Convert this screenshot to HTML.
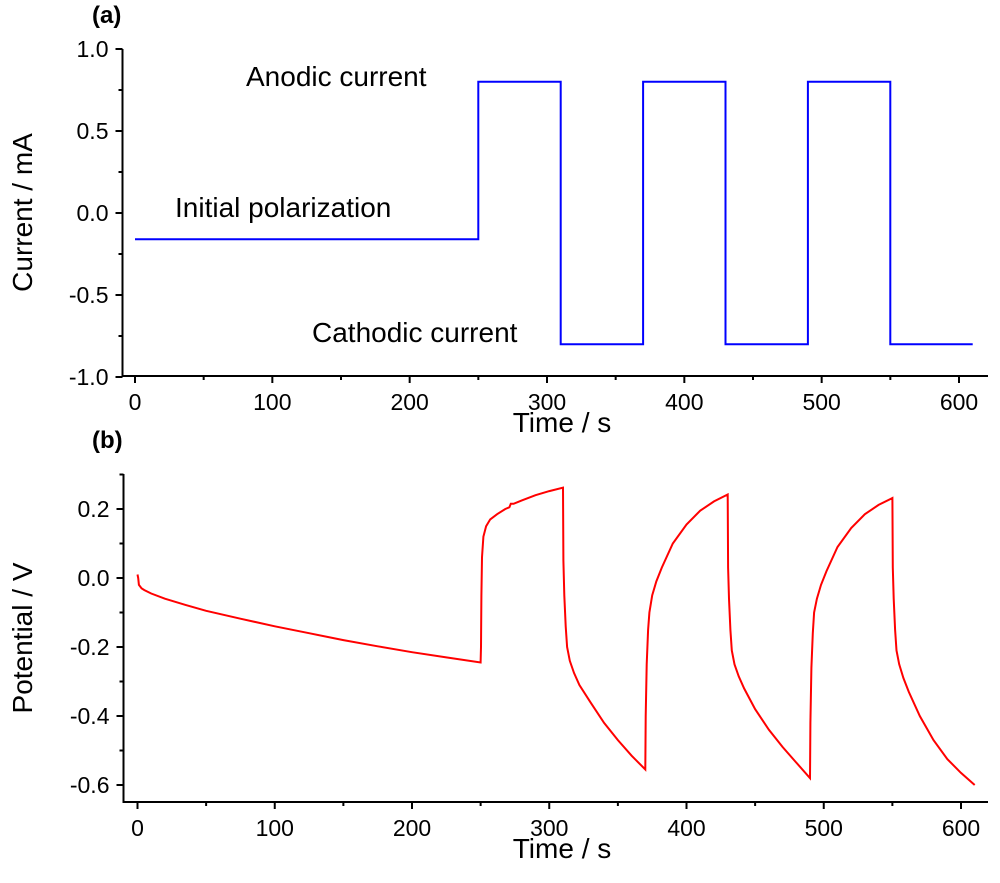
<!DOCTYPE html>
<html><head><meta charset="utf-8"><style>
body{margin:0;background:#fff}
svg text{font-family:"Liberation Sans",Arial,sans-serif;fill:#000}
</style></head><body>
<svg id="chart" width="1000" height="878" xmlns="http://www.w3.org/2000/svg"></svg>
<script>
const curT=[0,250,250,310,310,370,370,430,430,490,490,550,550,610];
const curI=[-0.16,-0.16,0.8,0.8,-0.8,-0.8,0.8,0.8,-0.8,-0.8,0.8,0.8,-0.8,-0.8];
const potT=[0,0.5,1,3,5,10,20,35,50,75,100,125,150,175,200,225,250,250.3,250.6,251,252,254,257,262,268,271,272,274,280,290,300,310,310.3,311,312,313,315,318,322,330,340,350,360,370,370.3,371,372,373,375,378,382,390,400,410,420,430,430.3,431,432,433,435,438,442,450,460,470,480,490,490.3,491,492,493,495,498,502,510,520,530,540,550,550.3,551,552,553,555,558,562,570,580,590,600,610];
const potV=[0.01,0.0,-0.02,-0.03,-0.035,-0.045,-0.06,-0.078,-0.095,-0.118,-0.14,-0.16,-0.18,-0.198,-0.215,-0.23,-0.245,-0.2,-0.05,0.06,0.12,0.15,0.17,0.185,0.2,0.205,0.215,0.215,0.225,0.24,0.252,0.262,0.05,-0.05,-0.14,-0.2,-0.24,-0.275,-0.31,-0.36,-0.42,-0.47,-0.515,-0.555,-0.4,-0.25,-0.15,-0.1,-0.05,-0.01,0.03,0.1,0.155,0.195,0.222,0.242,0.03,-0.06,-0.15,-0.21,-0.25,-0.285,-0.32,-0.38,-0.44,-0.49,-0.535,-0.58,-0.42,-0.26,-0.16,-0.1,-0.06,-0.02,0.02,0.09,0.145,0.185,0.212,0.232,0.03,-0.06,-0.15,-0.21,-0.25,-0.29,-0.33,-0.4,-0.47,-0.525,-0.565,-0.6];
const xTicks=[0,100,200,300,400,500,600];
const aTicks=[-1.0,-0.5,0.0,0.5,1.0];
const bTicks=[-0.6,-0.4,-0.2,0.0,0.2];
const NS="http://www.w3.org/2000/svg";
const svg=document.getElementById('chart');
function mk(tag,at,txt){const e=document.createElementNS(NS,tag);for(const k in at)e.setAttribute(k,at[k]);if(txt!==undefined)e.textContent=txt;svg.appendChild(e);return e;}
function panel(p){
 const xs=t=>p.x0+t*(p.x600-p.x0)/600;
 const ys=v=>p.yA+(v-p.vA)*(p.yB-p.yA)/(p.vB-p.vA);
 const ax=mk('path',{d:`M${p.left},${p.top}V${p.bottom}H988`,stroke:'#000','stroke-width':2,fill:'none'});
 
 
 xTicks.forEach((t,i)=>{
  const x=xs(t);
  mk('line',{x1:x,x2:x,y1:p.bottom,y2:p.bottom+7,stroke:'#000','stroke-width':2});
  const m=xs(t+50); if(t<600) mk('line',{x1:m,x2:m,y1:p.bottom,y2:p.bottom+4,stroke:'#000','stroke-width':2});
  const l=mk('text',{x:x,y:p.bottom+34,'font-size':23,'text-anchor':'middle'},String(t));
  
  
 });
 p.ticks.forEach((v,i)=>{
  const y=ys(v);
  mk('line',{x1:p.left-7,x2:p.left,y1:y,y2:y,stroke:'#000','stroke-width':2});
  if(i<p.ticks.length-1){const ym=ys(v+p.step/2);mk('line',{x1:p.left-4,x2:p.left,y1:ym,y2:ym,stroke:'#000','stroke-width':2});}
  const l=mk('text',{x:p.left-14,y:y+8,'font-size':23,'text-anchor':'end'},v.toFixed(1));
  
  
 });
 if(p.extraTop){const ym=ys(p.ticks[p.ticks.length-1]+p.step/2);mk('line',{x1:p.left-4,x2:p.left,y1:ym,y2:ym,stroke:'#000','stroke-width':2});}
 const d=p.T.map((t,i)=>(i?'L':'M')+xs(t).toFixed(1)+','+ys(p.V[i]).toFixed(1)).join('');
 const s=mk('path',{d:d,stroke:p.color,'stroke-width':2,fill:'none'});
 
 
 const xt=mk('text',{x:562,y:p.bottom+56,'font-size':28,'text-anchor':'middle'},'Time / s');
 
 
 const cy=(p.top+p.bottom)/2;
 const yt=mk('text',{x:22,y:cy,'font-size':28,'text-anchor':'middle',transform:`rotate(-90 22 ${cy})`,dy:10},p.ytitle);
 
 
 const pl=mk('text',{x:92,y:p.top-26,'font-size':24,'font-weight':'bold'},p.label);
 
 
}
panel({name:'panel-a',left:122.5,top:49,bottom:376,x0:135,x600:959,yA:213,vA:0,yB:49,vB:1,ticks:aTicks,step:0.5,T:curT,V:curI,color:'#0000ff',ytitle:'Current / mA',label:'(a)'});
panel({name:'panel-b',left:123.5,top:474,bottom:802,x0:137.5,x600:961,yA:578,vA:0,yB:509,vB:0.2,ticks:bTicks,step:0.2,extraTop:true,T:potT,V:potV,color:'#ff0000',ytitle:'Potential / V',label:'(b)'});
[['Anodic current',246,86,'anodic-label'],['Initial polarization',175,217,'initial-label'],['Cathodic current',312,342,'cathodic-label']].forEach(a=>{
 const t=mk('text',{x:a[1],y:a[2],'font-size':28},a[0]);
 
 
});
</script>
</body></html>
